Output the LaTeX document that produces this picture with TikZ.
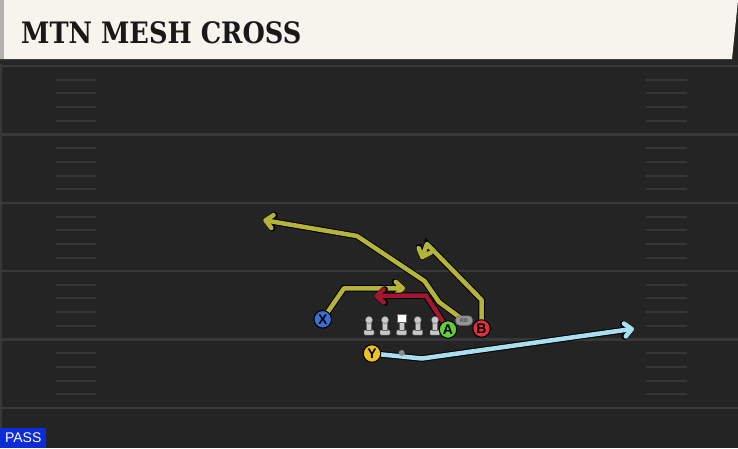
\documentclass[tikz,border=0pt]{standalone}
\usepackage{fontspec}
\setsansfont{Liberation Sans}
\newfontfamily\titlefont{DejaVu Serif}
\usetikzlibrary{arrows.meta}
\pgfdeclarelayer{field}
\pgfdeclarelayer{routes}
\pgfsetlayers{field,routes,main}
\definecolor{fieldgray}{RGB}{36,36,36}
\definecolor{yardgray}{RGB}{56,56,56}
\definecolor{hashgray}{RGB}{54,54,54}
\definecolor{headercream}{RGB}{246,244,237}
\definecolor{routeolive}{RGB}{181,180,58}
\definecolor{routered}{RGB}{162,22,48}
\definecolor{routeblue}{RGB}{168,224,240}
\definecolor{xblue}{RGB}{58,112,214}
\definecolor{agreen}{RGB}{96,206,58}
\definecolor{bred}{RGB}{226,48,58}
\definecolor{ygold}{RGB}{240,192,32}
\definecolor{passblue}{RGB}{12,44,216}
\definecolor{olgray}{RGB}{200,200,200}
\definecolor{rbgray}{RGB}{150,150,150}
\begin{document}
\begin{tikzpicture}[x=1pt,y=-1pt,
  player/.style={circle, draw=black, line width=1pt, minimum size=17.5pt, inner sep=0pt,
    font=\sffamily\bfseries\fontsize{14}{14}\selectfont},
  route/.style={line width=4.5pt, line join=round,
    preaction={draw=black, line width=6.5pt}, -{Straight Barb[length=7pt, width=13pt, round]}},
  hash/.style={hashgray, line width=2pt},
  lineman/.style={fill=olgray, draw=black!60, line width=0.4pt}]
\useasboundingbox (0,0) rectangle (738,448);
\begin{pgfonlayer}{field}
\fill[fieldgray] (0,0) rectangle (738,448);
\fill[yardgray] (0,60) rectangle (2,448);
\foreach \y in {66,134.5,203,271,339.5,408}
  \draw[yardgray, line width=2.5pt] (0,\y) -- (738,\y);
\foreach \y in {66,134.5,203,271,339.5}
  \foreach \k in {1,...,4} {
    \draw[hash] (56,{\y+13.7*\k}) -- (96,{\y+13.7*\k});
    \draw[hash] (646,{\y+13.7*\k}) -- (687,{\y+13.7*\k});
  }
\fill[black!85] (0,58) rectangle (738,64);
\fill[headercream] (0,0) -- (738,0) -- (732,59) -- (0,59) -- cycle;
\fill[black!30] (0,0) rectangle (4,59);
\end{pgfonlayer}
\node[anchor=base west, inner sep=0pt, xscale=0.87, text=black!90,
  font=\titlefont\bfseries\fontsize{29.5}{29.5}\selectfont] (title) at (21,43) {MTN MESH CROSS};
\node[anchor=south west, fill=passblue, text=white, minimum width=46pt, minimum height=20pt,
  inner sep=0pt, font=\sffamily\fontsize{14}{14}\selectfont] (pass) at (0,448) {PASS};
\foreach \x in {369,385,401.7,417.7,435} {
  \filldraw[lineman, rounded corners=1pt] ({\x-5},335) rectangle ({\x+5},330);
  \filldraw[lineman] ({\x-2.5},330.2) rectangle ({\x+2.5},321);
}
\foreach \x in {369,385,417.7,435}
  \filldraw[lineman] (\x,320) circle[radius=3.6];
\filldraw[fill=white, draw=black!60, line width=0.4pt] (397.5,314.3) rectangle (405.9,322.3);
\node[circle, fill=black!45, minimum size=6pt, inner sep=0pt] (qb) at (401.7,353) {};
\node[player, fill=xblue] (X) at (322.7,319.3) {X};
\node[player, fill=agreen] (A) at (448,329.5) {A};
\node[player, fill=bred] (B) at (481.5,328.5) {B};
\node[player, fill=ygold] (Y) at (372,353.5) {Y};
\node[rounded corners=4pt, fill=rbgray, draw=black!60, line width=0.5pt, minimum width=17pt,
  minimum height=9.5pt, inner sep=0pt, text=black!70,
  font=\sffamily\bfseries\fontsize{5.5}{5.5}\selectfont] (RB) at (464,320.5) {RB};
\begin{pgfonlayer}{routes}
\draw[route, routeolive] (X.center) -- (344,288.3) -- (405,288.3);
\draw[route, routered] (A.center) -- (426,295.5) -- (374.5,296);
\draw[route, routeolive] (B.center) -- (481.7,300) -- (427,244) -- (421.5,259);
\draw[route, routeolive] (RB.center) -- (439,302) -- (424.5,281) -- (357,236) -- (263.3,220);
\draw[route, routeblue] (Y.center) -- (422,358.5) -- (634,328.7);
\end{pgfonlayer}
\end{tikzpicture}
\end{document}
